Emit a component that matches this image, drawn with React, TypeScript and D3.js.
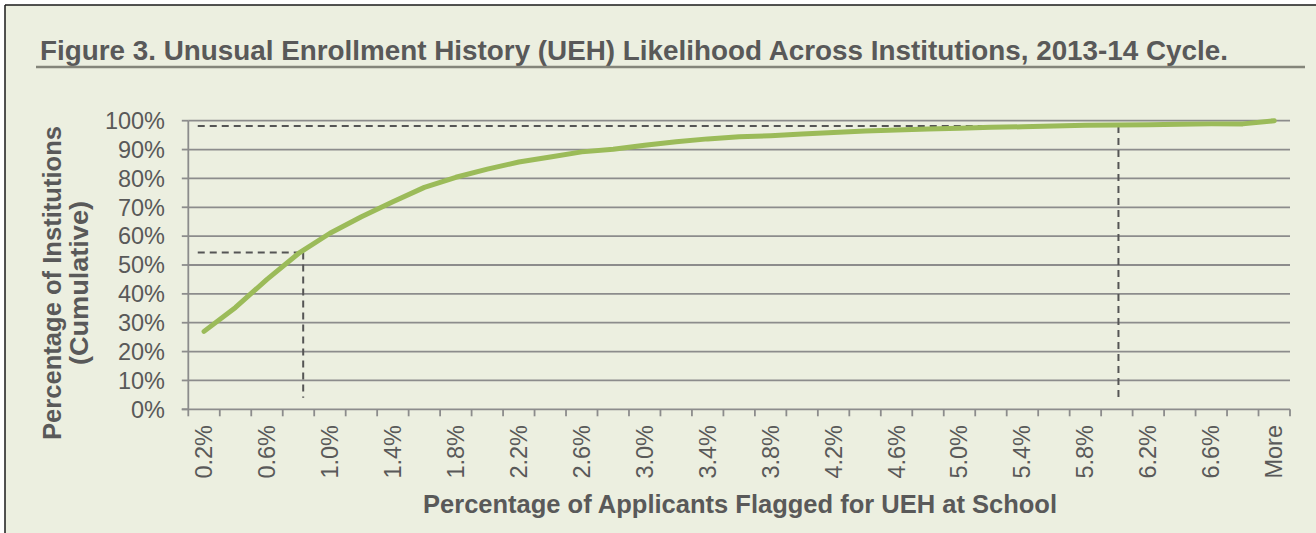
import React from "react";
import * as d3 from "d3";

// cumulative share of institutions per flagged-applicant bucket
const categories = [
  "0.2%", "0.4%", "0.6%", "0.8%", "1.0%", "1.2%", "1.4%", "1.6%", "1.8%", "2.0%",
  "2.2%", "2.4%", "2.6%", "2.8%", "3.0%", "3.2%", "3.4%", "3.6%", "3.8%", "4.0%",
  "4.2%", "4.4%", "4.6%", "4.8%", "5.0%", "5.2%", "5.4%", "5.6%", "5.8%", "6.0%",
  "6.2%", "6.4%", "6.6%", "6.8%", "More",
];
const cumulative = [
  27.0, 35.3, 45.0, 54.0, 61.0, 66.7, 71.9, 76.9, 80.4, 83.2,
  85.7, 87.4, 89.2, 90.1, 91.5, 92.7, 93.7, 94.4, 94.8, 95.4,
  95.9, 96.4, 96.8, 97.1, 97.4, 97.7, 97.9, 98.2, 98.4, 98.5,
  98.6, 98.8, 98.9, 98.9, 100,
];
const yTicks = [0, 10, 20, 30, 40, 50, 60, 70, 80, 90, 100];
// dashed guide lines: position in category units, value in %
const guides = [
  { at: 3.15, value: 54.3 },
  { at: 29.05, value: 98.2 },
];
const guideStart = -0.2;
const guideBottom = 4;

const W = 1316;
const H = 533;
const TEXT = "#595959";
const GRID = "#8c8c8c";
const GREEN = "#9BBB59";
const BG = "#ECEFE0";

const App = () => {
  const left = 188.3;
  const right = 1290;
  const top = 120.7;
  const bottom = 409.3;

  const x = d3.scaleBand<string>().domain(categories).range([left, right]).padding(0);
  const xi = d3.scaleLinear().domain([-0.5, categories.length - 0.5]).range([left, right]);
  const y = d3.scaleLinear().domain([0, 100]).range([bottom, top]);

  const line = d3.line<number>()
    .x((d, i) => (x(categories[i]) as number) + x.bandwidth() / 2)
    .y(d => y(d));

  const boundaries = d3.range(categories.length + 1).map(i => left + i * x.bandwidth());

  return (
    <svg width={W} height={H} style={{ position: "absolute", left: 0, top: 0 }}
      fontFamily="Arial, 'Liberation Sans', sans-serif">
      <rect x={0} y={0} width={W} height={H} fill="#fff" />
      <rect x={5} y={5} width={W} height={H} fill={BG} />
      <line x1={5} x2={W} y1={5} y2={5} stroke="#1a1a1a" strokeWidth={1.5} />
      <line x1={5} x2={5} y1={5} y2={H} stroke="#1a1a1a" strokeWidth={1.5} />

      <text x={40} y={60} fontSize={28.5} fontWeight="bold" fill={TEXT}
        fontFamily="'Liberation Sans Narrow', 'Arial Narrow', 'Liberation Sans', Arial, sans-serif"
        textLength={1188} lengthAdjust="spacingAndGlyphs">
        Figure 3. Unusual Enrollment History (UEH) Likelihood Across Institutions, 2013-14 Cycle.
      </text>
      <line x1={36} x2={1305} y1={67} y2={67} stroke="#84857a" strokeWidth={2.5} />

      {/* gridlines */}
      {yTicks.filter(t => t > 0).map(t => (
        <line key={"g" + t} x1={left} x2={right} y1={y(t)} y2={y(t)} stroke={GRID} strokeWidth={1.8} />
      ))}

      {/* axes */}
      <line x1={left} x2={left} y1={top} y2={bottom} stroke={GRID} strokeWidth={1.8} />
      <line x1={left - 6.5} x2={right} y1={bottom} y2={bottom} stroke={GRID} strokeWidth={1.8} />
      {yTicks.map(t => (
        <g key={"y" + t}>
          <line x1={left - 6.5} x2={left} y1={y(t)} y2={y(t)} stroke={GRID} strokeWidth={1.8} />
          <text x={165} y={y(t)} dy="0.35em" textAnchor="end" fontSize={23.5} fill={TEXT}>{t}%</text>
        </g>
      ))}
      {boundaries.map((b, i) => (
        <line key={"t" + i} x1={b} x2={b} y1={bottom} y2={bottom + 7} stroke={GRID} strokeWidth={1.8} />
      ))}
      {categories.map((c, i) => i % 2 === 0 ? (
        <text key={"x" + c} transform={`translate(${(x(c) as number) + x.bandwidth() / 2 + 8},425) rotate(-90)`}
          textAnchor="end" fontSize={23.5} fill={TEXT}>{c}</text>
      ) : null)}

      {/* dashed guides */}
      {guides.map((g, i) => (
        <g key={"d" + i} stroke="#555" strokeWidth={2} strokeDasharray="7,5" fill="none">
          <line x1={xi(guideStart)} x2={xi(g.at)} y1={y(g.value)} y2={y(g.value)} />
          <line x1={xi(g.at)} x2={xi(g.at)} y1={y(g.value)} y2={y(guideBottom)} />
        </g>
      ))}

      <path d={line(cumulative) || ""} fill="none" stroke={GREEN} strokeWidth={5} strokeLinejoin="round" strokeLinecap="round" />

      {/* axis titles */}
      <text x={740} y={513} textAnchor="middle" fontSize={25} fontWeight="bold" fill={TEXT}
        textLength={634} lengthAdjust="spacingAndGlyphs">
        Percentage of Applicants Flagged for UEH at School
      </text>
      <g transform="translate(61,283) rotate(-90)" fontSize={25} fontWeight="bold" fill={TEXT} textAnchor="middle">
        <text x={0} y={0} textLength={314} lengthAdjust="spacingAndGlyphs">Percentage of Institutions</text>
        <text x={0} y={27} textLength={164} lengthAdjust="spacingAndGlyphs">(Cumulative)</text>
      </g>
    </svg>
  );
};

export default App;
